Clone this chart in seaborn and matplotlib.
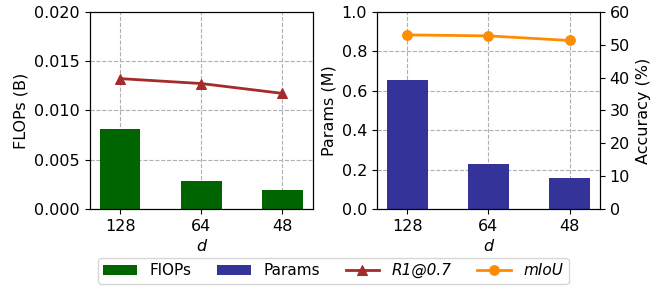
import matplotlib
matplotlib.use('Agg')
import matplotlib.pyplot as plt
import seaborn as sns
import numpy as np
import pandas as pd

d_labels = ['128', '64', '48']
flops = [0.0081, 0.0028, 0.0019]
params = [0.655, 0.228, 0.157]
r1_acc = [39.7, 38.2, 35.2]
miou = [53.0, 52.7, 51.3]

df = pd.DataFrame({'d': d_labels, 'FLOPs': flops, 'Params': params,
                   'R1': r1_acc, 'mIoU': miou})
xpos = np.arange(len(d_labels))

plt.rcParams['font.family'] = ['DejaVu Sans']
plt.rcParams['font.size'] = 11.5

fig = plt.figure(figsize=(6.6, 2.9), dpi=100)
ax1 = fig.add_axes([0.136, 0.279, 0.338, 0.680])
ax3 = fig.add_axes([0.571, 0.279, 0.338, 0.680])

grid_kw = dict(color='#b0b0b0', linestyle='--', linewidth=0.8)

# left: FLOPs bars + R1 line on hidden twin
sns.barplot(data=df, x='d', y='FLOPs', color='#006400', width=0.5,
            saturation=1, ax=ax1, label='FlOPs', linewidth=0, zorder=2)
ax1.get_legend().remove()
ax1.set_ylim(0, 0.020)
ax1.set_yticks(np.arange(0, 0.0201, 0.005))
ax1.set_ylabel('FLOPs (B)')
ax1.set_xlabel('d', fontstyle='italic')
ax1.set_axisbelow(True)
ax1.grid(True, **grid_kw)
ax2 = ax1.twinx()
sns.lineplot(x=xpos, y=df['R1'], ax=ax2, color='#a52a2a', marker='^',
             markersize=7, linewidth=2, markeredgecolor='#a52a2a',
             label='R1@0.7', legend=False)
ax2.set_ylim(0, 60)
ax2.set_yticks([])
ax2.set_ylabel('')
ax1.set_xlim(-0.375, 2.375)

# right: Params bars + mIoU line
sns.barplot(data=df, x='d', y='Params', color='#333399', width=0.5,
            saturation=1, ax=ax3, label='Params', linewidth=0, zorder=2)
ax3.get_legend().remove()
ax3.set_ylim(0, 1.0)
ax3.set_yticks(np.arange(0, 1.01, 0.2))
ax3.set_ylabel('Params (M)')
ax3.set_xlabel('d', fontstyle='italic')
ax3.set_axisbelow(True)
ax3.grid(True, **grid_kw)
ax4 = ax3.twinx()
sns.lineplot(x=xpos, y=df['mIoU'], ax=ax4, color='#ff8c00', marker='o',
             markersize=7, linewidth=2, markeredgecolor='#ff8c00',
             label='mIoU', legend=False)
ax4.set_ylim(0, 60)
ax4.set_yticks(np.arange(0, 61, 10))
ax4.set_ylabel('Accuracy (%)')
ax3.set_xlim(-0.375, 2.375)

for a in (ax1, ax3):
    a.set_xticks(xpos)
    a.set_xticklabels(d_labels)

handles, labels = [], []
for a in (ax1, ax3, ax2, ax4):
    h, l = a.get_legend_handles_labels()
    handles += h
    labels += l
leg = fig.legend(handles, labels, loc='lower center', ncol=4,
                 bbox_to_anchor=(0.505, -0.005), frameon=True,
                 fontsize=11, handlelength=2.2, columnspacing=1.7,
                 borderpad=0.35)
for t in leg.get_texts():
    if t.get_text() in ('R1@0.7', 'mIoU'):
        t.set_fontstyle('italic')

fig.savefig('out.png', dpi=100)
